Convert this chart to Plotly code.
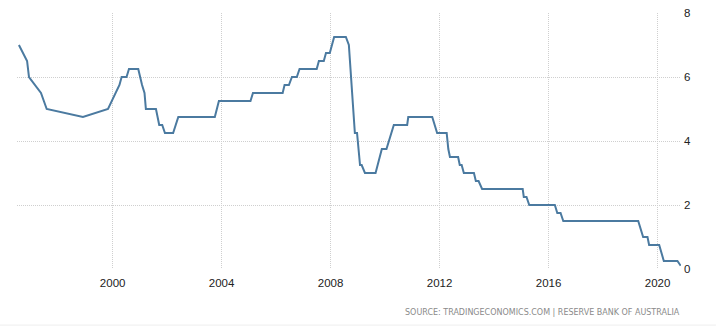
import plotly.graph_objects as go

# Reserve Bank of Australia cash rate (decimal year, percent)
years = [1996.56, 1996.84, 1996.86, 1996.93, 1997.37, 1997.58, 1998.91, 1999.83,
         2000.13, 2000.25, 2000.33, 2000.51, 2000.60, 2000.94, 2001.08, 2001.17,
         2001.22, 2001.59, 2001.71, 2001.82, 2001.92, 2002.22, 2002.41, 2003.75,
         2003.90, 2005.06, 2005.15, 2006.24, 2006.31, 2006.47, 2006.58, 2006.76,
         2006.86, 2007.49, 2007.57, 2007.75, 2007.83, 2007.97, 2008.13, 2008.56,
         2008.67, 2008.89, 2008.97, 2009.08, 2009.14, 2009.26, 2009.65, 2009.88,
         2010.05, 2010.32, 2010.81, 2010.85, 2011.73, 2011.91, 2012.26, 2012.32,
         2012.38, 2012.68, 2012.74, 2012.81, 2012.89, 2013.26, 2013.33, 2013.43,
         2013.56, 2015.05, 2015.09, 2015.19, 2015.29, 2016.23, 2016.32, 2016.44,
         2016.54, 2019.29, 2019.47, 2019.63, 2019.69, 2020.06, 2020.23, 2020.73,
         2020.85]
rates = [7.0, 6.5, 6.5, 6.0, 5.5, 5.0, 4.75, 5.0,
         5.5, 5.75, 6.0, 6.0, 6.25, 6.25, 5.75, 5.5,
         5.0, 5.0, 4.5, 4.5, 4.25, 4.25, 4.75, 4.75,
         5.25, 5.25, 5.5, 5.5, 5.75, 5.75, 6.0, 6.0,
         6.25, 6.25, 6.5, 6.5, 6.75, 6.75, 7.25, 7.25,
         7.0, 4.25, 4.25, 3.25, 3.25, 3.0, 3.0, 3.75,
         3.75, 4.5, 4.5, 4.75, 4.75, 4.25, 4.25, 3.75,
         3.5, 3.5, 3.25, 3.25, 3.0, 3.0, 2.75, 2.75,
         2.5, 2.5, 2.25, 2.25, 2.0, 2.0, 1.75, 1.75,
         1.5, 1.5, 1.0, 1.0, 0.75, 0.75, 0.25, 0.25,
         0.1]

x_ticks = [2000, 2004, 2008, 2012, 2016, 2020]
x_tick_labels = ["2000", "2004", "2008", "2012", "2016", "2020"]
y_ticks = [0, 2, 4, 6, 8]
y_tick_labels = ["0", "2", "4", "6", "8"]
source_text = "SOURCE: TRADINGECONOMICS.COM | RESERVE BANK OF AUSTRALIA"

fig = go.Figure()
fig.add_trace(go.Scatter(
    x=years, y=rates, mode="lines",
    line=dict(color="#4b7aa0", width=2),
    hoverinfo="x+y", showlegend=False,
))

grid_color = "#cfcfcf"
fig.update_layout(
    width=716, height=333,
    margin=dict(l=17, r=35, t=7, b=63.5),
    paper_bgcolor="white", plot_bgcolor="white",
    font=dict(family="Liberation Sans, Arial, sans-serif", size=11.5, color="#222222"),
    xaxis=dict(
        range=[1996.49, 2020.86],
        tickmode="array", tickvals=x_ticks, ticktext=x_tick_labels,
        showgrid=True, gridcolor=grid_color, griddash="1px,1px", gridwidth=1,
        zeroline=False, showline=False, ticks="",
        ticklabelstandoff=5,
        tickfont=dict(size=11.5, color="#222222"),
    ),
    yaxis=dict(
        range=[0, 8], side="right",
        tickmode="array", tickvals=y_ticks, ticktext=y_tick_labels,
        showgrid=True, gridcolor=grid_color, griddash="1px,1px", gridwidth=1,
        zeroline=False, showline=False, ticks="",
        ticklabelstandoff=2,
        tickfont=dict(size=11.5, color="#222222"),
    ),
    annotations=[dict(
        text=source_text, xref="paper", yref="paper",
        x=1.0015, y=-0.168, xanchor="right", yanchor="middle",
        showarrow=False,
        font=dict(family="DejaVu Sans", size=8, color="#8a8a8a"),
    )],
    shapes=[dict(type="line", xref="paper", yref="paper",
                 x0=-0.0256, x1=1.0527, y0=-0.219, y1=-0.219,
                 line=dict(color="#eeeeee", width=1))],
)

fig.write_html("out.html", config={"displayModeBar": False},
               post_script="document.body.style.margin='0';")
